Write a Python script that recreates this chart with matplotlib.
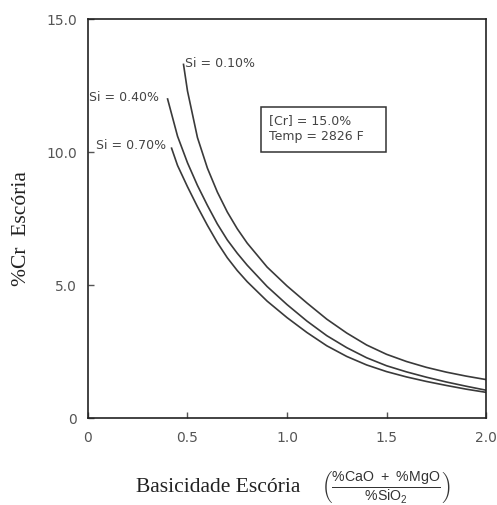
import matplotlib.pyplot as plt
from matplotlib.patches import Rectangle

# valores
si_010_x = [0.48, 0.50, 0.55, 0.60, 0.65, 0.70, 0.75, 0.80, 0.90, 1.00, 1.10, 1.20, 1.30, 1.40, 1.50, 1.60, 1.70, 1.80, 1.90, 2.00]
si_010_y = [13.3, 12.3, 10.55, 9.4, 8.5, 7.75, 7.12, 6.58, 5.68, 4.97, 4.33, 3.72, 3.2, 2.75, 2.4, 2.13, 1.91, 1.73, 1.58, 1.45]

si_040_x = [0.40, 0.45, 0.50, 0.55, 0.60, 0.65, 0.70, 0.75, 0.80, 0.90, 1.00, 1.10, 1.20, 1.30, 1.40, 1.50, 1.60, 1.70, 1.80, 1.90, 2.00]
si_040_y = [12.0, 10.6, 9.6, 8.75, 8.0, 7.3, 6.7, 6.2, 5.75, 4.95, 4.27, 3.65, 3.1, 2.65, 2.27, 1.97, 1.74, 1.54, 1.36, 1.2, 1.05]

si_070_x = [0.42, 0.45, 0.50, 0.55, 0.60, 0.65, 0.70, 0.75, 0.80, 0.90, 1.00, 1.10, 1.20, 1.30, 1.40, 1.50, 1.60, 1.70, 1.80, 1.90, 2.00]
si_070_y = [10.15, 9.5, 8.7, 7.95, 7.25, 6.6, 6.03, 5.55, 5.13, 4.4, 3.78, 3.22, 2.72, 2.32, 2.0, 1.75, 1.55, 1.38, 1.23, 1.09, 0.97]

x_ticks = [0, 0.5, 1.0, 1.5, 2.0]
x_labels = ["0", "0.5", "1.0", "1.5", "2.0"]
y_ticks = [0, 5, 10, 15]
y_labels = ["0", "5.0", "10.0", "15.0"]

plt.rcParams['mathtext.fontset'] = 'custom'
plt.rcParams['mathtext.rm'] = 'Liberation Sans'

fig = plt.figure(figsize=(4.97, 5.05), dpi=100)
ax = fig.add_axes([0.177, 0.172, 0.801, 0.790])

cor = "#3a3a3a"
ax.plot(si_010_x, si_010_y, color=cor, lw=1.2)
ax.plot(si_040_x, si_040_y, color=cor, lw=1.2)
ax.plot(si_070_x, si_070_y, color=cor, lw=1.2)

ax.set_xlim(0, 2.0)
ax.set_ylim(0, 15.0)
ax.set_xticks(x_ticks)
ax.set_xticklabels(x_labels)
ax.set_yticks(y_ticks)
ax.set_yticklabels(y_labels)
ax.tick_params(direction="in", length=4, width=1, labelsize=10, colors="#555555", pad=8)
ax.tick_params(axis="x", pad=9)
for s in ax.spines.values():
    s.set_linewidth(1.2)
    s.set_color("#222222")

fonte = "DejaVu Sans"
ax.text(0.487, 13.35, "Si = 0.10%", fontsize=9, family=fonte, color="#444444", va="center")
ax.text(0.005, 12.07, "Si = 0.40%", fontsize=9, family=fonte, color="#444444", va="center")
ax.text(0.04, 10.26, "Si = 0.70%", fontsize=9, family=fonte, color="#444444", va="center")

# caixa com as condições
ax.add_patch(Rectangle((0.869, 10.0), 0.628, 1.69, fill=False, ec="#333333", lw=1.1))
ax.text(0.91, 11.2, "[Cr] = 15.0%", fontsize=9, family=fonte, color="#444444", va="center")
ax.text(0.91, 10.58, "Temp = 2826 F", fontsize=9, family=fonte, color="#444444", va="center")

fig.text(0.044, 0.548, "%Cr  Escória", rotation=90, fontsize=15.5, family="Liberation Serif",
         color="#222222", ha="center", va="center")
fig.text(0.44, 0.035, "Basicidade Escória", fontsize=15.5, family="Liberation Serif",
         color="#222222", ha="center", va="center")
fig.text(0.777, 0.036, r"$\left(\frac{\mathrm{\%CaO\ +\ \%MgO}}{\mathrm{\%SiO_2}}\right)$",
         fontsize=14.5, color="#333333", ha="center", va="center")

fig.savefig("out.png", dpi=100)
